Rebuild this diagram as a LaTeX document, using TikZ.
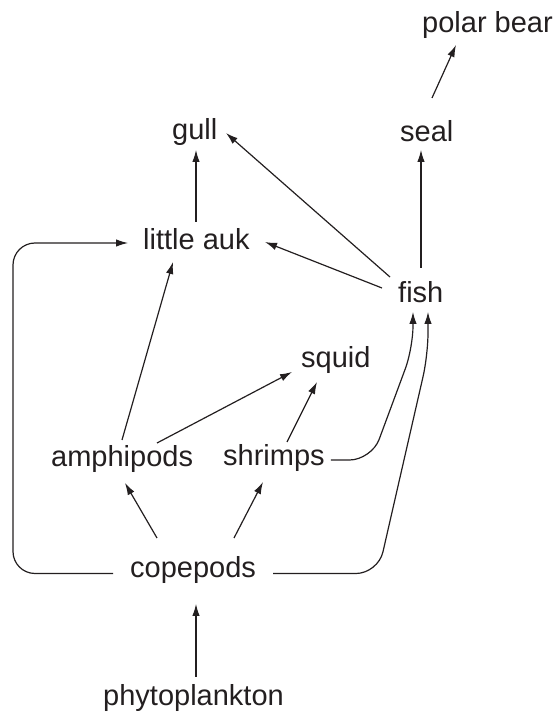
\documentclass[tikz,border=0pt]{standalone}
\usepackage{fontspec}
\setmainfont{Liberation Sans}
\usetikzlibrary{arrows.meta,calc}
\definecolor{ink}{HTML}{231F20}
\begin{document}
\begin{tikzpicture}[x=1pt,y=1pt,
  species/.style={inner sep=0pt,anchor=base west,text=ink,font=\fontsize{29}{34}\selectfont},
  feeds/.style={draw=ink,line width=1.2pt,-{Latex[length=12pt,width=7.5pt]}},
  loop/.style={feeds,rounded corners=22pt}]
\useasboundingbox (0,0) rectangle (553,716);

% organisms
\node[species] (bear)  at (422,683) {polar bear};
\node[species] (seal)  at (400,574) {seal};
\node[species] (gull)  at (172,576) {gull};
\node[species] (auk)   at (143,466) {little auk};
\node[species] (fish)  at (398,413) {fish};
\node[species] (squid) at (301,348) {squid};
\node[species] (amph)  at (51,249)  {amphipods};
\node[species] (shrimp) at (223,250) {shrimps};
\node[species] (cope)  at (130,138) {copepods};
\node[species] (phyto) at (103,10)  {phytoplankton};

% straight feeding links
\draw[feeds] ($(phyto.base west)+(93,29)$) -- ($(cope.base west)+(66,-26)$);
\draw[feeds] ($(cope.base west)+(27,40)$) -- ($(amph.base west)+(74,-16)$);
\draw[feeds] ($(cope.base west)+(104,40)$) -- ($(shrimp.base west)+(40,-16)$);
\draw[feeds] ($(amph.base west)+(71,27)$) -- ($(auk.base west)+(30,-12)$);
\draw[feeds] ($(amph.base west)+(106,24)$) -- ($(squid.base west)+(-9,-4)$);
\draw[feeds] ($(shrimp.base west)+(64,24)$) -- ($(squid.base west)+(16,-14)$);
\draw[feeds] ($(auk.base west)+(53,28)$) -- ($(gull.base west)+(24,-10)$);
\draw[feeds] ($(fish.base west)+(-8,26)$) -- ($(gull.base west)+(54,7)$);
\draw[feeds] ($(fish.base west)+(-16,15)$) -- ($(auk.base west)+(122,8)$);
\draw[feeds] ($(fish.base west)+(23,35)$) -- ($(seal.base west)+(21,-8)$);
\draw[feeds] ($(seal.base west)+(32,44)$) -- ($(bear.base west)+(34,-12)$);

% routed links
\coordinate (shrimpout) at ($(shrimp.base east)+(6,6)$);
\coordinate (copeR) at ($(cope.base east)+(17,4.5)$);
\coordinate (copeL) at ($(cope.base west)+(-17,4.5)$);
\draw[loop] (shrimpout) -- (371.5,256) -- (413,368) -- ($(fish.base west)+(15,-9)$);
\draw[loop] (copeR) -- (378,142.5) -- (428,361) -- ($(fish.base west)+(30,-9)$);
\draw[loop] (copeL) -- (13,142.5) -- (13,473) -- ($(auk.base west)+(-15,7)$);
\end{tikzpicture}
\end{document}
